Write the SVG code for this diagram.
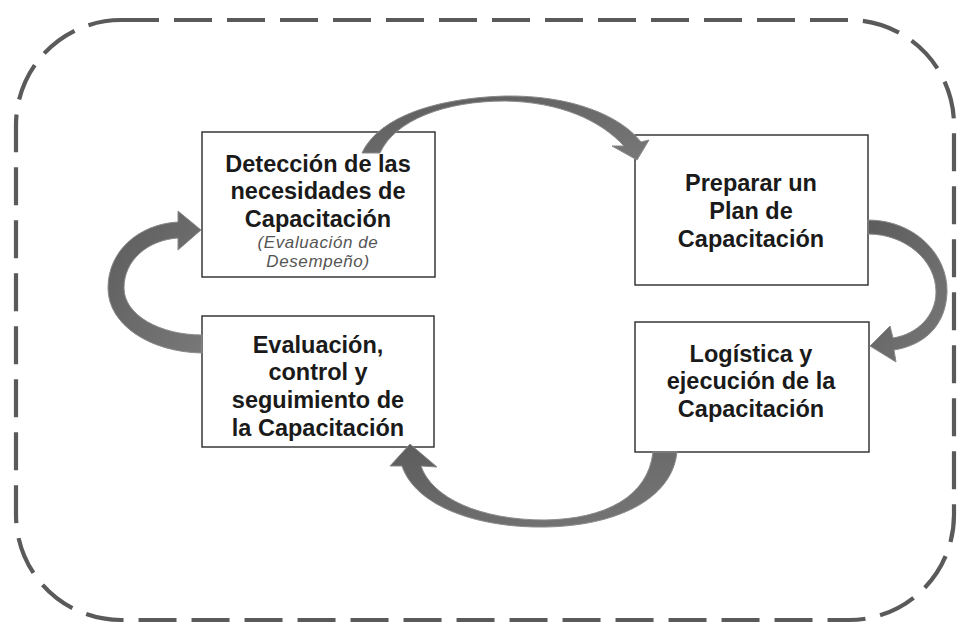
<svg xmlns="http://www.w3.org/2000/svg" width="957" height="630" viewBox="0 0 957 630">
<style>
.frame{fill:none;stroke:#5a5a5a;stroke-width:4.2;stroke-dasharray:38 15}
.box{fill:#fff;stroke:#2a2a2a;stroke-width:1.4}
.t{font-family:"Liberation Sans",Arial,sans-serif;font-weight:700;font-size:23.5px;fill:#1a1a1a;text-anchor:middle}
.i{font-family:"Liberation Sans",Arial,sans-serif;font-style:italic;font-size:17px;letter-spacing:0.6px;fill:#555;text-anchor:middle}
.arr{fill:url(#g);stroke:#8a8a8a;stroke-width:1}
</style>
<defs>
<linearGradient id="g" x1="0" y1="0" x2="1" y2="1">
<stop offset="0" stop-color="#5c5c5c"/>
<stop offset="1" stop-color="#787878"/>
</linearGradient>
</defs>
<rect width="957" height="630" fill="#fff"/>
<rect class="frame" x="16" y="20" width="938" height="600" rx="105" ry="105"/>
<g id="n1">
<rect class="box" x="202" y="132" width="233" height="145"/>
<text class="t" x="318" y="172">Detección de las</text>
<text class="t" x="318" y="199">necesidades de</text>
<text class="t" x="318" y="227">Capacitación</text>
<text class="i" x="318" y="248">(Evaluación de</text>
<text class="i" x="318" y="267">Desempeño)</text>
</g>
<g id="n2">
<rect class="box" x="635" y="135" width="233" height="150"/>
<text class="t" x="751" y="191">Preparar un</text>
<text class="t" x="751" y="219">Plan de</text>
<text class="t" x="751" y="247">Capacitación</text>
</g>
<g id="n3">
<rect class="box" x="202" y="316" width="232" height="131"/>
<text class="t" x="318" y="353">Evaluación,</text>
<text class="t" x="318" y="380">control y</text>
<text class="t" x="318" y="408">seguimiento de</text>
<text class="t" x="318" y="436">la Capacitación</text>
</g>
<g id="n4">
<rect class="box" x="635" y="322" width="234" height="130"/>
<text class="t" x="751" y="362">Logística y</text>
<text class="t" x="751" y="389">ejecución de la</text>
<text class="t" x="751" y="417">Capacitación</text>
</g>
<g id="connectors">
<path class="arr" d="M 362 153 C 380 115, 440 98, 505 96 C 570 95, 620 115, 641 142 L 649 140 L 637 160 L 612 146 L 624 146 C 600 120, 560 102, 505 101 C 445 101, 395 120, 380 153 Z"/>
<path class="arr" d="M 868 220 C 915 220, 948 255, 947 292 C 946 325, 925 345, 894 350 L 896 362 L 870 346 L 890 326 L 893 338 C 918 334, 936 315, 936 292 C 936 260, 905 234, 868 234 Z"/>
<path class="arr" d="M 677 452 C 672 500, 615 526, 545 527 C 475 528, 415 505, 402 466 L 390 466 L 410 444 L 437 467 L 421 466 C 432 498, 480 520, 545 520 C 605 519, 648 497, 653 452 Z"/>
<path class="arr" d="M 202 353 C 150 352, 108 325, 108 288 C 108 250, 140 224, 178 222 L 178 211 L 201 230 L 178 250 L 178 238 C 148 240, 124 260, 124 288 C 124 315, 160 335, 202 335 Z"/>
</g>
</svg>
